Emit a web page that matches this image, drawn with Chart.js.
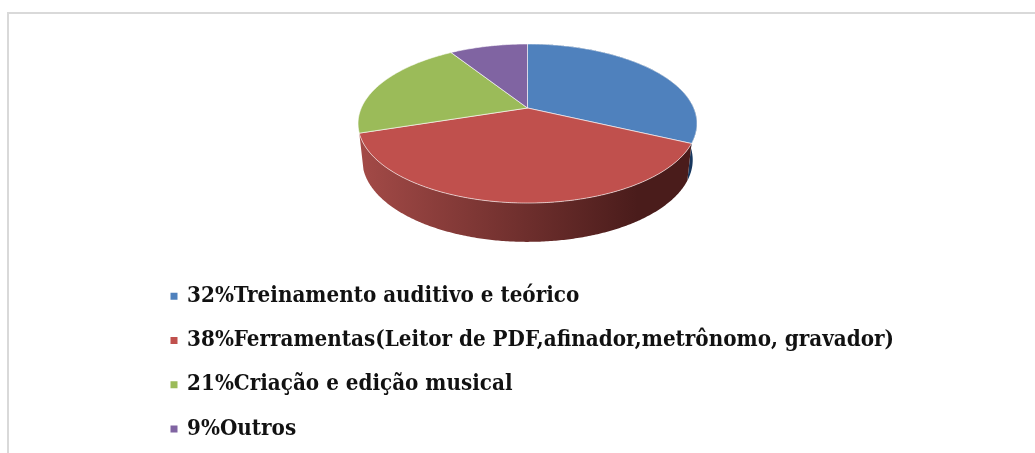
<!DOCTYPE html>
<html>
<head>
<meta charset="utf-8">
<style>
html, body { margin: 0; padding: 0; background: #fff; overflow: hidden; }
#frame { position: absolute; left: 7px; top: 12px; right: 0; bottom: -4px; border-top: 2px solid #d9d9d9; border-left: 2px solid #d9d9d9; }
canvas { position: absolute; left: 0; top: 0; }
</style>
<script src="https://cdn.jsdelivr.net/npm/chart.js@4"></script>
</head>
<body>
<div id="frame"></div>
<canvas id="pie" width="1035" height="453"></canvas>
<script>
const categories = [
    '32%Treinamento auditivo e teórico',
    '38%Ferramentas(Leitor de PDF,afinador,metrônomo, gravador)',
    '21%Criação e edição musical',
    '9%Outros'
];
const shares = [32, 38, 21, 9];
const colors = ['#4f81bd', '#c0504d', '#9bbb59', '#8064a2'];
// only the front slices show a side wall
const wallColors = [
    ['#2a5484', '#17375e'],
    ['#a34a47', '#4a1c1b'],
    null,
    null
];

// perspective view of the pie disc, apex sits above the middle of the ellipse
const view = { x: 527.5, y: 108, sx: 166.2, a: 76.5, c: 0.195, depth: 36, bottomX: 0.975, bottomY: 1.03 };

function topPoint(angle) {
    const u = Math.cos(angle), v = Math.sin(angle);
    const d = 1 - view.c * v;
    return { x: u * view.sx / d, y: view.a * v / d };
}

function rimPoints(start, end) {
    const pts = [];
    const steps = Math.max(2, Math.ceil((end - start) / 0.01));
    for (let i = 0; i <= steps; i++) {
        pts.push(topPoint(start + (end - start) * i / steps));
    }
    return pts;
}

const pie3d = {
    id: 'pie3d',
    beforeDatasetsDraw(chart) {
        const ctx = chart.ctx;
        const arcs = chart.getDatasetMeta(0).data;
        ctx.save();
        ctx.translate(view.x, view.y);

        // side wall first, the top face covers what is hidden
        arcs.forEach((arc, i) => {
            if (!wallColors[i]) return;
            const rim = rimPoints(arc.startAngle, arc.endAngle);
            const grad = ctx.createLinearGradient(-167, 0, 110, 0);
            grad.addColorStop(0, wallColors[i][0]);
            grad.addColorStop(1, wallColors[i][1]);
            ctx.beginPath();
            rim.forEach((p, k) => k ? ctx.lineTo(p.x, p.y) : ctx.moveTo(p.x, p.y));
            rim.slice().reverse().forEach(p => {
                ctx.lineTo(p.x * view.bottomX, view.depth + p.y * view.bottomY);
            });
            ctx.closePath();
            ctx.fillStyle = grad;
            ctx.fill();
        });

        // top face
        arcs.forEach((arc, i) => {
            const rim = rimPoints(arc.startAngle, arc.endAngle);
            ctx.beginPath();
            ctx.moveTo(0, 0);
            rim.forEach(p => ctx.lineTo(p.x, p.y));
            ctx.closePath();
            ctx.fillStyle = colors[i];
            ctx.fill();
            ctx.strokeStyle = 'rgba(255,255,255,0.6)';
            ctx.lineWidth = 1;
            ctx.stroke();
        });
        ctx.restore();
        return false;
    }
};

new Chart(document.getElementById('pie'), {
    type: 'pie',
    data: {
        labels: categories,
        datasets: [{
            data: shares,
            backgroundColor: colors,
            borderColor: colors,
            borderWidth: 3
        }]
    },
    options: {
        responsive: false,
        animation: false,
        layout: { padding: { left: 150, bottom: -9 } },
        plugins: {
            tooltip: { enabled: false },
            legend: {
                position: 'left',
                align: 'end',
                maxWidth: 860,
                labels: {
                    boxWidth: 4,
                    boxHeight: 4,
                    padding: 22,
                    color: '#111',
                    font: { family: '"DejaVu Serif Condensed", "DejaVu Serif", serif', weight: 'bold', size: 22.2 }
                }
            }
        }
    },
    plugins: [pie3d]
});
</script>
</body>
</html>
